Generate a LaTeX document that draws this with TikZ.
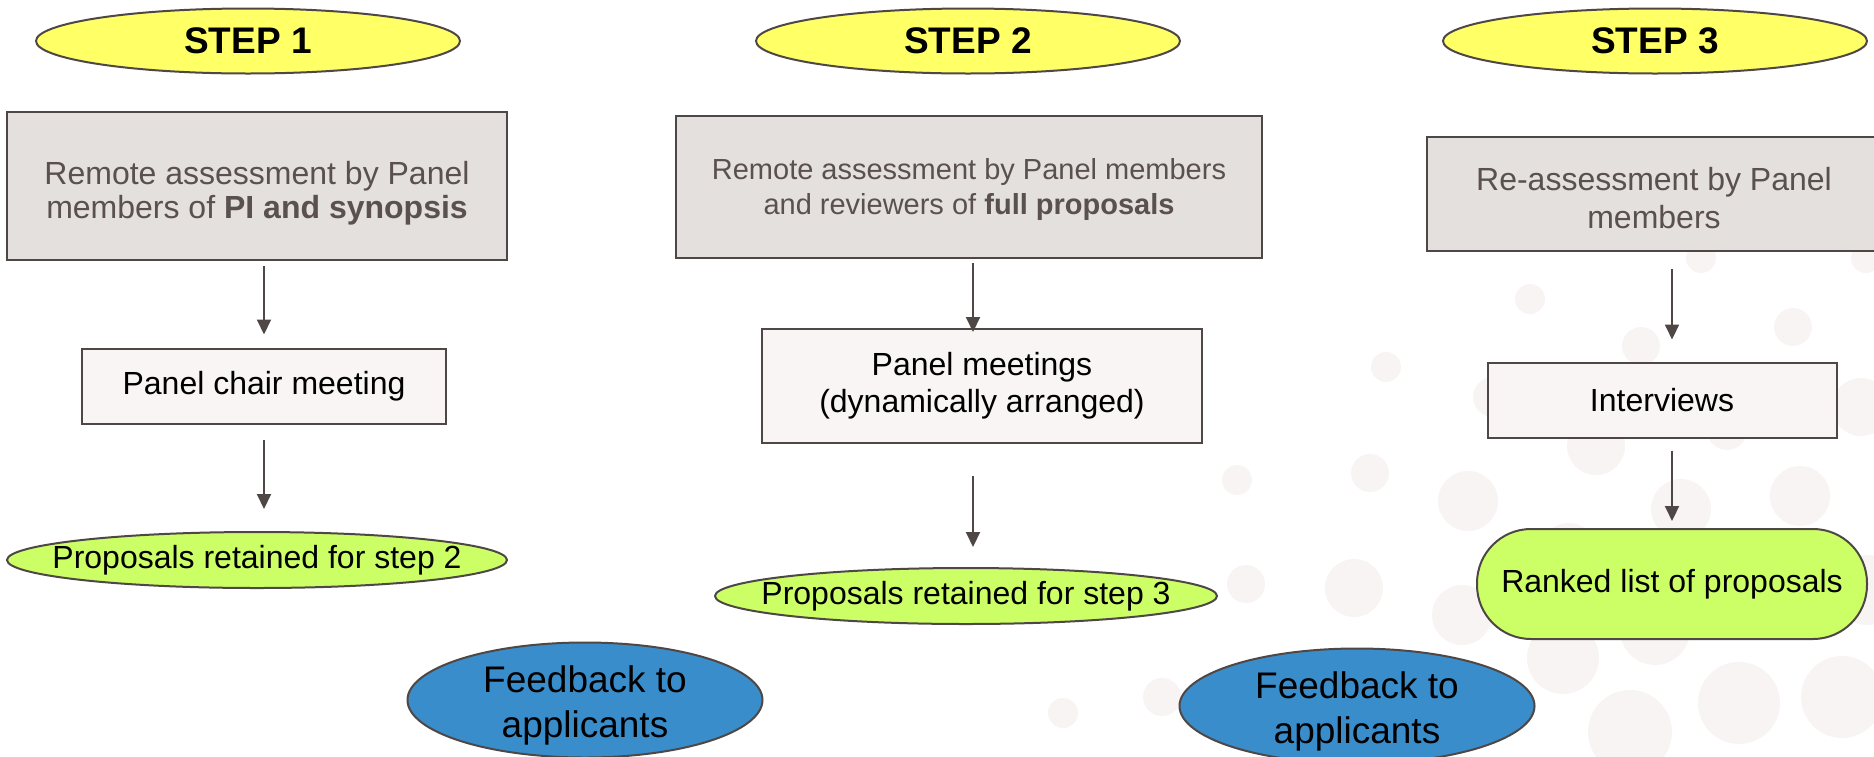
\documentclass[tikz,border=0pt]{standalone}
\usepackage{fontspec}
\setmainfont{Liberation Sans}
\usetikzlibrary{arrows.meta, shapes.geometric}

\definecolor{edge}{HTML}{4F4745}
\definecolor{textgray}{HTML}{5A504D}
\definecolor{stepyellow}{HTML}{FFFF66}
\definecolor{resultgreen}{HTML}{CCFF66}
\definecolor{feedblue}{HTML}{3A8DCB}
\definecolor{boxgray}{HTML}{E4E0DD}
\definecolor{boxlight}{HTML}{F8F5F4}
\definecolor{dotgray}{HTML}{F8F4F3}

\begin{document}
\begin{tikzpicture}[x=1pt, y=-1pt,
  every node/.style={align=center, font=\fontsize{32}{37}\selectfont},
  stepoval/.style={ellipse, draw=edge, line width=2pt, fill=stepyellow,
    minimum width=424pt, minimum height=65pt, inner sep=0pt,
    font=\fontsize{37}{43}\selectfont\bfseries},
  assessbox/.style={rectangle, draw=edge, line width=2pt, fill=boxgray,
    text=textgray, inner sep=0pt},
  meetbox/.style={rectangle, draw=edge, line width=2pt, fill=boxlight,
    inner sep=0pt},
  retained/.style={ellipse, draw=edge, line width=2pt, fill=resultgreen,
    minimum width=500pt, minimum height=56pt, inner sep=0pt},
  feedback/.style={ellipse, draw=edge, line width=2pt, fill=feedblue,
    minimum width=355pt, minimum height=115pt, inner xsep=0pt, inner ysep=-10pt,
    font=\fontsize{37}{45}\selectfont},
  flow/.style={draw=edge, line width=2pt, -{Triangle[length=15pt, width=14pt]}},
  bgdot/.style={fill=dotgray}
]
  \useasboundingbox (0,0) rectangle (1874,756);

  % Faint background dots
  \foreach \cx/\cy/\r in {1386/367/15, 1237/480/15, 1370/473/19, 1246/584/19,
      1354/588/29, 1162/697/19, 1063/713/15, 1530/299/15, 1701/258/15,
      1866/258/15, 1793/327/19, 1641/346/19, 1493/397/20, 1596/446/29,
      1727/430/20, 1861/407/29, 1468/501/30, 1681/509/30, 1800/496/30,
      1569/553/30, 1462/615/30, 1655/630/35, 1563/658/36, 1867/590/35,
      1739/703/41, 1842/697/41, 1630/732/42}
    \fill[bgdot] (\cx,\cy) circle (\r pt);

  % Step headers
  \node[stepoval] (step1) at (248,41) {STEP 1};
  \node[stepoval] (step2) at (968,41) {STEP 2};
  \node[stepoval] (step3) at (1655,41) {STEP 3};

  % Step 1
  \node[assessbox, minimum width=500pt, minimum height=148pt,
    font=\fontsize{32}{34}\selectfont] (assess1) at (257,186)
    {\rule{0pt}{37pt}Remote assessment by Panel\\members of \textbf{PI and synopsis}};
  \node[meetbox, minimum width=364pt, minimum height=75pt] (chair) at (264,386)
    {Panel chair meeting};
  \node[retained] (keep2) at (257,560)
    {\makebox[0pt]{Proposals retained for step 2}};

  % Step 2
  \node[assessbox, minimum width=586pt, minimum height=142pt,
    font=\fontsize{29}{35}\selectfont] (assess2) at (969,187)
    {\rule{0pt}{27pt}Remote assessment by Panel members\\and reviewers of \textbf{full proposals}};
  \node[meetbox, minimum width=440pt, minimum height=114pt] (meetings) at (982,386)
    {Panel meetings\\(dynamically arranged)};
  \node[retained, minimum width=502pt] (keep3) at (966,596)
    {\makebox[0pt]{Proposals retained for step 3}};

  % Step 3
  \node[assessbox, minimum width=454pt, minimum height=114pt,
    font=\fontsize{32}{38}\selectfont] (assess3) at (1654,194)
    {\rule{0pt}{31pt}Re-assessment by Panel\\members};
  \node[meetbox, minimum width=349pt, minimum height=75pt] (interviews) at (1662,400)
    {Interviews};
  \node[rectangle, draw=edge, line width=2pt, fill=resultgreen, rounded corners=54pt,
    minimum width=390pt, minimum height=110pt, inner sep=0pt] (ranked) at (1672,584)
    {Ranked list of proposals};

  % Feedback
  \node[feedback] (fb1) at (585,700) {\rule{0pt}{37pt}Feedback to\\applicants};
  \node[feedback] (fb2) at (1357,706) {\rule{0pt}{37pt}Feedback to\\applicants};

  % Arrows
  \draw[flow, shorten <=5pt, shorten >=13pt] (assess1.south -| chair.north) -- (chair.north);
  \draw[flow, shorten <=15pt, shorten >=22pt] (chair.south) -- (keep2.north -| chair.south);
  \draw[flow, shorten <=4pt, shorten >=-4pt] ([xshift=4pt]assess2.south)
    -- ([xshift=4pt]assess2.south |- meetings.north);
  \draw[flow, shorten <=32pt, shorten >=20pt] ([xshift=4pt]assess2.south |- meetings.south)
    -- ([xshift=4pt]assess2.south |- keep3.north);
  \draw[flow, shorten <=17pt, shorten >=22pt] (assess3.south -| ranked.north)
    -- (interviews.north -| ranked.north);
  \draw[flow, shorten <=12pt, shorten >=7pt] (interviews.south -| ranked.north) -- (ranked.north);
\end{tikzpicture}
\end{document}
